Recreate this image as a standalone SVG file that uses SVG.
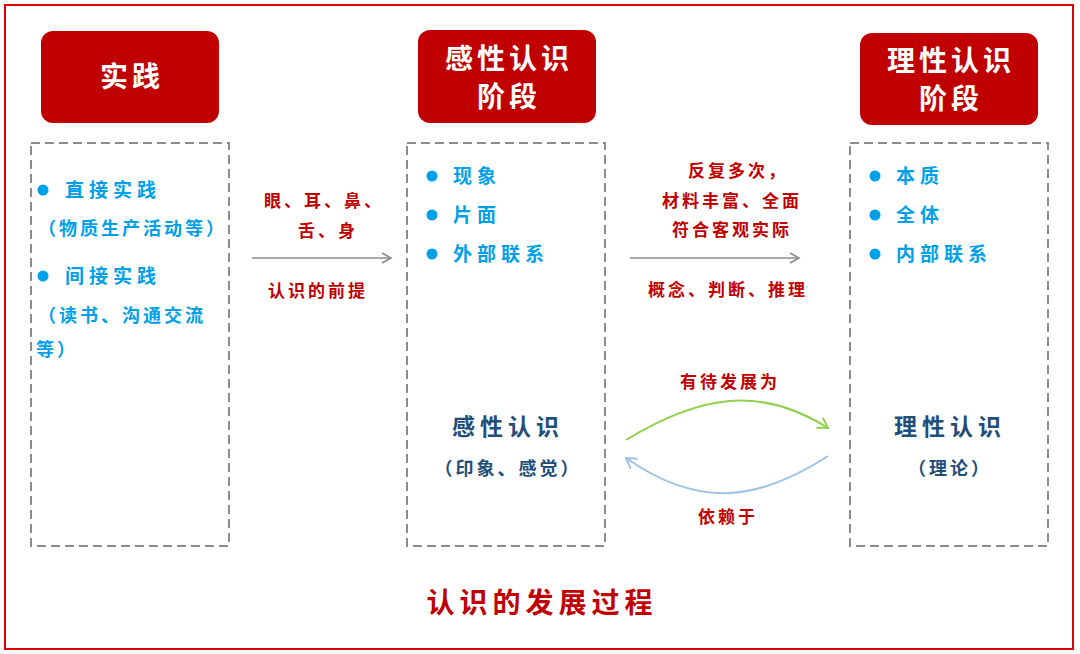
<svg xmlns="http://www.w3.org/2000/svg" width="1080" height="654" viewBox="0 0 1080 654">
<defs>
<style>
text{font-family:"Noto Sans CJK SC","Noto Sans",sans-serif;font-weight:bold}
.hd{fill:#c00000}
.ht{fill:#fff;font-size:28px;text-anchor:middle;letter-spacing:4px}
.box{fill:none;stroke:#8c8c8c;stroke-width:2;stroke-dasharray:9 5}
.b{fill:#00a0e9;font-size:19px;letter-spacing:5px}
.s{font-size:18px;letter-spacing:3px}
.dot{fill:#00a0e9}
.r{fill:#c00000;font-size:17px;text-anchor:middle;letter-spacing:3px}
.n{fill:#1f4e79;font-size:23px;text-anchor:middle;letter-spacing:5px}
.ns{fill:#1f4e79;font-size:18px;text-anchor:middle;letter-spacing:3px}
</style>
<marker id="ag" markerWidth="12" markerHeight="12" refX="10" refY="6" orient="auto" markerUnits="userSpaceOnUse"><path d="M1,1 L10,6 L1,11" fill="none" stroke="#8c8c8c" stroke-width="1.6"/></marker>
<marker id="agr" markerWidth="14" markerHeight="14" refX="11" refY="7" orient="auto" markerUnits="userSpaceOnUse"><path d="M1,1 L11,7 L1,13" fill="none" stroke="#92d050" stroke-width="2"/></marker>
<marker id="abl" markerWidth="14" markerHeight="14" refX="11" refY="7" orient="auto" markerUnits="userSpaceOnUse"><path d="M1,1 L11,7 L1,13" fill="none" stroke="#9dc3e6" stroke-width="2"/></marker>
</defs>
<rect x="5" y="5" width="1068" height="644" fill="#fff" stroke="#e00000" stroke-width="2"/>
<g id="n1">
<rect class="hd" x="41" y="31" width="178" height="92" rx="12"/>
<text class="ht" x="132" y="87">实践</text>
<rect class="box" x="31" y="143" width="198" height="403"/>
<circle class="dot" cx="43" cy="190" r="5.5"/>
<text class="b" x="65" y="197">直接实践</text>
<text class="b s" x="38" y="235">（物质生产活动等）</text>
<circle class="dot" cx="43" cy="276" r="5.5"/>
<text class="b" x="65" y="283">间接实践</text>
<text class="b s" x="38" y="322">（读书、沟通交流</text>
<text class="b s" x="36" y="356">等）</text>
</g>
<g id="n2">
<rect class="hd" x="418" y="30" width="178" height="93" rx="12"/>
<text class="ht" x="509" y="69">感性认识</text>
<text class="ht" x="509" y="107">阶段</text>
<rect class="box" x="407" y="143" width="198" height="403"/>
<circle class="dot" cx="432" cy="176" r="5.5"/>
<text class="b" x="453" y="183">现象</text>
<circle class="dot" cx="432" cy="215" r="5.5"/>
<text class="b" x="453" y="222">片面</text>
<circle class="dot" cx="432" cy="254" r="5.5"/>
<text class="b" x="453" y="261">外部联系</text>
<text class="n" x="508" y="435">感性认识</text>
<text class="ns" x="508" y="475">（印象、感觉）</text>
</g>
<g id="n3">
<rect class="hd" x="860" y="33" width="178" height="92" rx="12"/>
<text class="ht" x="951" y="71">理性认识</text>
<text class="ht" x="951" y="109">阶段</text>
<rect class="box" x="850" y="143" width="198" height="403"/>
<circle class="dot" cx="875" cy="176" r="5.5"/>
<text class="b" x="896" y="183">本质</text>
<circle class="dot" cx="875" cy="215" r="5.5"/>
<text class="b" x="896" y="222">全体</text>
<circle class="dot" cx="875" cy="254" r="5.5"/>
<text class="b" x="896" y="261">内部联系</text>
<text class="n" x="950" y="435">理性认识</text>
<text class="ns" x="950" y="475">（理论）</text>
</g>
<g id="connectors">
<line x1="252" y1="258" x2="391" y2="258" stroke="#8c8c8c" stroke-width="1.6" marker-end="url(#ag)"/>
<line x1="630" y1="258" x2="799" y2="258" stroke="#8c8c8c" stroke-width="1.6" marker-end="url(#ag)"/>
<path d="M626,440 C700,395 760,385 828,428" fill="none" stroke="#92d050" stroke-width="2" marker-end="url(#agr)"/>
<path d="M828,456 C760,500 700,510 626,458" fill="none" stroke="#9dc3e6" stroke-width="2" marker-end="url(#abl)"/>
<text class="r" x="324" y="207">眼、耳、鼻、</text>
<text class="r" x="328" y="237">舌、身</text>
<text class="r" x="318" y="297">认识的前提</text>
<text class="r" x="738" y="177">反复多次，</text>
<text class="r" x="732" y="207">材料丰富、全面</text>
<text class="r" x="732" y="236">符合客观实际</text>
<text class="r" x="728" y="296">概念、判断、推理</text>
<text class="r" x="730" y="388">有待发展为</text>
<text class="r" x="728" y="523">依赖于</text>
</g>
<text x="542" y="613" style="fill:#c00000;font-size:28px;text-anchor:middle;letter-spacing:5px">认识的发展过程</text>
</svg>
